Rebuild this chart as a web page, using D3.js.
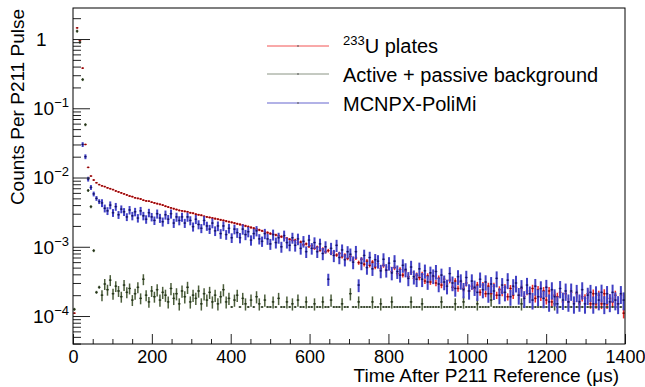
<!DOCTYPE html>
<html>
<head>
<meta charset="utf-8">
<script src="https://cdn.jsdelivr.net/npm/d3@7"></script>
<style>
  body { margin: 0; background: #fff; }
  text { font-family: "Liberation Sans", Arial, Helvetica, sans-serif; fill: #000; }
</style>
</head>
<body>
<svg id="chart" width="645" height="387"></svg>
<script>
// histogram: 200 bins of 7 us from 0 to 1400 us, values in units of 1e-4 counts/pulse
const binEdges = d3.range(0, 1401, 7);
const UNIT = 1e-4;

const uranium = [
  1.1, 14500, 9500, 3800, 300, 140, 105, 92, 84, 79,
  76, 74, 71, 69, 67, 64, 62, 60, 58, 56,
  54, 53, 51, 50, 49, 47, 46, 45.5, 44, 43,
  42, 41, 40, 38.5, 37.5, 36.5, 35.5, 34.5, 33.5, 33,
  32.5, 32, 31, 30.5, 29.5, 29, 28.5, 27.5, 27, 26.5,
  26, 25.5, 25, 24.5, 24, 23.5, 23, 22.5, 22, 21.5,
  21, 20.5, 20, 19.5, 19, 18.5, 18, 17.5, 17, 16.5,
  16, 15.5, 15.2, 14.8, 14.4, 14, 13.6, 13.2, 12.8, 12.4,
  12.4, 11.4, 11.7, 10.7, 11.0, 10.1, 10.4, 9.5, 9.9, 8.9,
  9.3, 8.5, 8.8, 8.0, 8.4, 7.6, 8.0, 7.2, 7.6, 6.8,
  7.3, 6.4, 6.9, 5.9, 6.6, 5.6, 6.2, 5.4, 6.0, 5.1,
  5.7, 4.8, 5.4, 4.6, 5.1, 4.4, 5.0, 4.1, 4.7, 3.9,
  4.5, 3.7, 4.3, 3.5, 3.9, 3.6, 4.0, 3.2, 3.8, 3.1,
  3.7, 3.0, 3.5, 2.8, 3.4, 2.9, 3.3, 2.6, 3.2, 2.5,
  3.1, 2.5, 3.0, 2.3, 2.7, 2.5, 2.8, 2.2, 2.8, 2.1,
  2.7, 2.1, 2.7, 2.0, 2.4, 2.2, 2.6, 1.9, 2.5, 2.0,
  2.6, 2.0, 2.5, 1.9, 2.3, 2.1, 2.5, 1.8, 2.4, 1.9,
  2.3, 1.7, 2.3, 1.6, 2.0, 1.9, 2.2, 1.6, 2.1, 1.6,
  2.2, 1.6, 2.1, 1.5, 1.9, 1.8, 2.1, 1.5, 2.1, 1.5,
  2.0, 1.5, 2.1, 1.5, 1.8, 1.6, 2.0, 1.5, 2.0, 1.1
];

const background = [
  1.25, 13000, 9000, 2600, 580, 65, 38, 8.8, 2.2, 2.6,
  2.0, 2.9, 2.4, 3.3, 2.1, 2.7, 2.3, 1.9, 2.8, 2.2,
  2.5, 1.7, 2.1, 2.6, 1.8, 3.4, 2.0, 1.6, 2.3, 1.9,
  2.4, 1.7, 2.2, 2.0, 1.6, 2.5, 1.8, 2.1, 1.5, 2.3,
  1.9, 2.6, 1.6, 2.0, 1.8, 2.3, 1.5, 2.1, 1.7, 2.2,
  1.6, 2.0, 1.5, 1.9, 2.4, 1.6, 1.8, 1.35, 1.7, 2.0,
  1.35, 1.8, 1.5, 1.35, 1.7, 1.35, 1.9, 1.5, 1.35, 1.7,
  1.35, 1.35, 1.6, 1.35, 1.8, 1.35, 1.35, 1.6, 1.35, 1.5,
  1.35, 1.7, 1.35, 1.35, 1.6, 1.35, 1.35, 1.5, 1.35, 1.35,
  1.6, 1.35, 1.35, 1.7, 1.35, 1.35, 1.35, 1.5, 1.35, 1.35,
  2.1, 1.35, 1.35, 1.6, 1.35, 1.35, 1.35, 1.35, 1.6, 1.35,
  1.35, 1.5, 1.35, 1.35, 1.35, 1.6, 1.35, 1.35, 1.35, 1.35,
  1.35, 1.35, 1.6, 1.35, 1.35, 1.35, 1.5, 1.35, 1.35, 1.35,
  1.35, 1.35, 1.35, 1.6, 1.35, 1.35, 1.35, 1.35, 1.5, 1.35,
  1.35, 1.6, 1.35, 1.35, 1.35, 1.35, 1.5, 1.35, 1.35, 1.35,
  1.35, 1.7, 1.35, 1.35, 1.35, 1.35, 1.35, 1.35, 1.35, 1.35,
  1.35, 1.35, 1.5, 1.35, 1.35, 1.35, 1.35, 1.35, 1.35, 1.35,
  1.35, 1.35, 1.35, 1.35, 1.5, 1.35, 1.35, 1.35, 1.35, 1.35,
  1.35, 1.35, 1.35, 1.35, 1.35, 1.35, 1.35, 1.35, 1.35, 1.35,
  1.35, 1.35, 1.35, 1.35, 1.35, 1.35, 1.35, 1.35, 1.35, null
];
const BG_FLOOR = 1.35; // bins sitting on the floor level have no error bar

const mcnpx = [
  null, null, null, 300, 200, 95, 72, 58, 50, 45,
  43, 36, 33, 40, 31, 38, 29, 35, 32, 27,
  34, 28, 32, 26, 33, 28, 25, 31, 27, 24,
  30, 26, 23, 29, 25, 30, 22, 27, 24, 27,
  22, 27, 24, 19.5, 25, 21, 18.5, 24, 20, 18,
  22, 17, 20, 15.5, 20, 15, 18.5, 13.5, 18, 16,
  13.5, 18, 15, 16.5, 12.5, 15.5, 17, 13, 12, 15.5,
  13, 11, 15, 11.5, 13.5, 10, 14.5, 11.5, 10.5, 13.5,
  10.5, 13, 9.5, 12, 8.5, 12.5, 9.5, 11.5, 8.5, 11,
  8, 10, 3.4, 9.5, 7.5, 10.5, 7, 9, 6.5, 8.5,
  7.8, 6, 8.5, 2.8, 5.8, 7.5, 5, 7, 4.8, 6.5,
  6.2, 4.5, 6.6, 4.6, 5.8, 4.2, 6.2, 4.4, 3.9, 5.4,
  4.7, 3.5, 5.1, 3.7, 3.4, 4.8, 3.4, 4.5, 3.1, 4.2,
  3.8, 4.4, 2.9, 3.9, 3.1, 2.7, 4.1, 3.0, 2.5, 3.7,
  3.2, 2.4, 3.6, 2.3, 3.2, 2.6, 2.2, 3.4, 2.4, 3.1,
  2.1, 2.9, 2.3, 3.5, 2.0, 2.8, 2.2, 3.3, 1.9, 2.7,
  3.0, 2.0, 2.6, 1.8, 2.8, 2.1, 1.7, 2.7, 1.9, 2.5,
  1.8, 2.6, 1.6, 2.4, 1.9, 1.5, 2.5, 1.7, 2.3, 1.6,
  2.3, 1.5, 2.2, 1.6, 2.4, 1.5, 2.0, 2.2, 1.5, 2.1,
  1.7, 2.2, 1.5, 2.1, 1.6, 2.2, 1.7, 1.5, 2.1, 1.7
];

// relative error bar half-size, one entry per 70 us (10 bins)
const uraniumErr = [0.01, 0.02, 0.025, 0.03, 0.03, 0.035, 0.04, 0.045, 0.05, 0.06,
                    0.07, 0.08, 0.09, 0.1, 0.11, 0.12, 0.13, 0.14, 0.15, 0.16];
const backgroundErr = [0.05, 0.18, 0.18, 0.2, 0.2, 0.2, 0.2, 0.2, 0.2, 0.2,
                       0.2, 0.2, 0.2, 0.2, 0.2, 0.2, 0.2, 0.2, 0.2, 0.2];
const mcnpxErr = [0.08, 0.13, 0.14, 0.15, 0.15, 0.16, 0.17, 0.18, 0.19, 0.2,
                  0.21, 0.22, 0.23, 0.24, 0.25, 0.26, 0.27, 0.28, 0.28, 0.29];

const xTicks = [0, 200, 400, 600, 800, 1000, 1200, 1400];
const yDecades = [-4, -3, -2, -1, 0];

const legendLabels = ['U plates', 'Active + passive background', 'MCNPX-PoliMi'];

const svg = d3.select('#chart');
const frame = { left: 73, right: 625, top: 8, bottom: 344 };

const x = d3.scaleLinear().domain([0, 1400]).range([frame.left, frame.right]);
const y = d3.scaleLog()
  .domain([Math.pow(10, -4.404), Math.pow(10, 0.448)])
  .range([frame.bottom, frame.top]);

svg.append('defs').append('clipPath').attr('id', 'plotClip')
  .append('rect')
  .attr('x', frame.left).attr('y', frame.top)
  .attr('width', frame.right - frame.left)
  .attr('height', frame.bottom - frame.top);

const plot = svg.append('g').attr('clip-path', 'url(#plotClip)');

function drawHist(vals, relErr, style, floor) {
  const pts = vals.map((v, i) => ({
      t0: binEdges[i], t1: binEdges[i + 1],
      v: v == null ? null : v * UNIT, raw: v,
      r: relErr[Math.floor(i / 10)]
    }))
    .filter(d => d.v);
  const g = plot.append('g');
  g.selectAll('line.h').data(pts).join('line')
    .attr('class', 'h')
    .attr('x1', d => x(d.t0)).attr('x2', d => x(d.t1))
    .attr('y1', d => y(d.v)).attr('y2', d => y(d.v))
    .attr('stroke', style.line).attr('stroke-width', 1.1);
  g.selectAll('line.v').data(pts.filter(d => d.raw !== floor)).join('line')
    .attr('class', 'v')
    .attr('x1', d => x((d.t0 + d.t1) / 2)).attr('x2', d => x((d.t0 + d.t1) / 2))
    .attr('y1', d => y(d.v * (1 - d.r)))
    .attr('y2', d => y(d.v * (1 + d.r)))
    .attr('stroke', style.line).attr('stroke-width', style.barWidth);
  g.selectAll('rect').data(pts).join('rect')
    .attr('x', d => x((d.t0 + d.t1) / 2) - 0.8)
    .attr('y', d => y(d.v) - 0.8)
    .attr('width', 1.6).attr('height', 1.6)
    .attr('fill', style.mark);
}

const styles = {
  uranium: { line: '#f02828', mark: '#7a0c0c', barWidth: 1.5 },
  background: { line: '#4c5e3c', mark: '#22301a', barWidth: 1.5 },
  mcnpx: { line: '#4040c4', mark: '#141458', barWidth: 2 }
};

drawHist(uranium, uraniumErr, styles.uranium);
drawHist(background, backgroundErr, styles.background, BG_FLOOR);
drawHist(mcnpx, mcnpxErr, styles.mcnpx);

// axes (ROOT style: ticks inside the frame)
const tickColor = '#222';
const xAxis = svg.append('g')
  .attr('transform', `translate(0,${frame.bottom})`)
  .call(d3.axisBottom(x).tickValues(xTicks).tickSize(-10).tickPadding(6).tickFormat(d3.format('d')));
const xMinor = svg.append('g')
  .attr('transform', `translate(0,${frame.bottom})`)
  .call(d3.axisBottom(x).tickValues(d3.range(0, 1401, 50).filter(v => v % 200 !== 0)).tickSize(-5).tickFormat(''));
[xAxis, xMinor].forEach(a => {
  a.select('.domain').remove();
  a.selectAll('line').attr('stroke', tickColor);
});
xAxis.selectAll('text').attr('font-size', 18)
  .style('font-family', '"Liberation Sans", Arial, Helvetica, sans-serif');

const majorY = yDecades.map(k => Math.pow(10, k));
const minorY = [];
for (let k = -5; k <= 0; k++) for (let m = 2; m <= 9; m++) {
  const v = m * Math.pow(10, k);
  if (v > y.domain()[0] && v < y.domain()[1]) minorY.push(v);
}
const yAxis = svg.append('g')
  .attr('transform', `translate(${frame.left},0)`)
  .call(d3.axisLeft(y).tickValues(majorY).tickSize(-17).tickFormat(''));
const yMinor = svg.append('g')
  .attr('transform', `translate(${frame.left},0)`)
  .call(d3.axisLeft(y).tickValues(minorY).tickSize(-8).tickFormat(''));
[yAxis, yMinor].forEach(a => {
  a.select('.domain').remove();
  a.selectAll('line').attr('stroke', tickColor);
});

// y tick labels 1, 10^-1 ...
yDecades.forEach(k => {
  const v = Math.pow(10, k);
  if (k === 0) {
    svg.append('text').attr('x', 36).attr('y', y(v)).attr('dy', '0.36em')
      .attr('font-size', 19).text('1');
  } else {
    const t = svg.append('text').attr('x', 33).attr('y', y(v)).attr('dy', '0.36em')
      .attr('font-size', 19);
    t.append('tspan').text('10');
    t.append('tspan').attr('dy', -8).attr('font-size', 13).text('\u2212' + Math.abs(k));
  }
});

// frame
svg.append('rect')
  .attr('x', frame.left).attr('y', frame.top)
  .attr('width', frame.right - frame.left).attr('height', frame.bottom - frame.top)
  .attr('fill', 'none').attr('stroke', '#000').attr('stroke-width', 1);

// axis titles
svg.append('text')
  .attr('x', 619).attr('y', 382)
  .attr('text-anchor', 'end').attr('font-size', 19)
  .text('Time After P211 Reference (\u03bcs)');
svg.append('text')
  .attr('transform', 'translate(24,9) rotate(-90)')
  .attr('text-anchor', 'end').attr('font-size', 19)
  .text('Counts Per P211 Pulse');

// legend
const legendRows = [
  { color: styles.uranium.line, label: legendLabels[0], sup: '233', y: 46, base: 53 },
  { color: '#6e7a66', label: legendLabels[1], y: 74, base: 82 },
  { color: styles.mcnpx.line, label: legendLabels[2], y: 103, base: 111 }
];
const legend = svg.append('g');
legendRows.forEach(r => {
  legend.append('line')
    .attr('x1', 267).attr('x2', 329).attr('y1', r.y).attr('y2', r.y)
    .attr('stroke', r.color).attr('stroke-width', 1).attr('opacity', 0.8);
  legend.append('line')
    .attr('x1', 298).attr('x2', 298).attr('y1', r.y - 1).attr('y2', r.y + 1)
    .attr('stroke', '#555').attr('stroke-width', 1);
  const t = legend.append('text').attr('x', 343).attr('y', r.base).attr('font-size', 20);
  if (r.sup) {
    t.append('tspan').attr('font-size', 13).attr('dy', -8).text(r.sup);
    t.append('tspan').attr('dy', 8).text(r.label);
  } else {
    t.text(r.label);
  }
});
</script>
</body>
</html>
